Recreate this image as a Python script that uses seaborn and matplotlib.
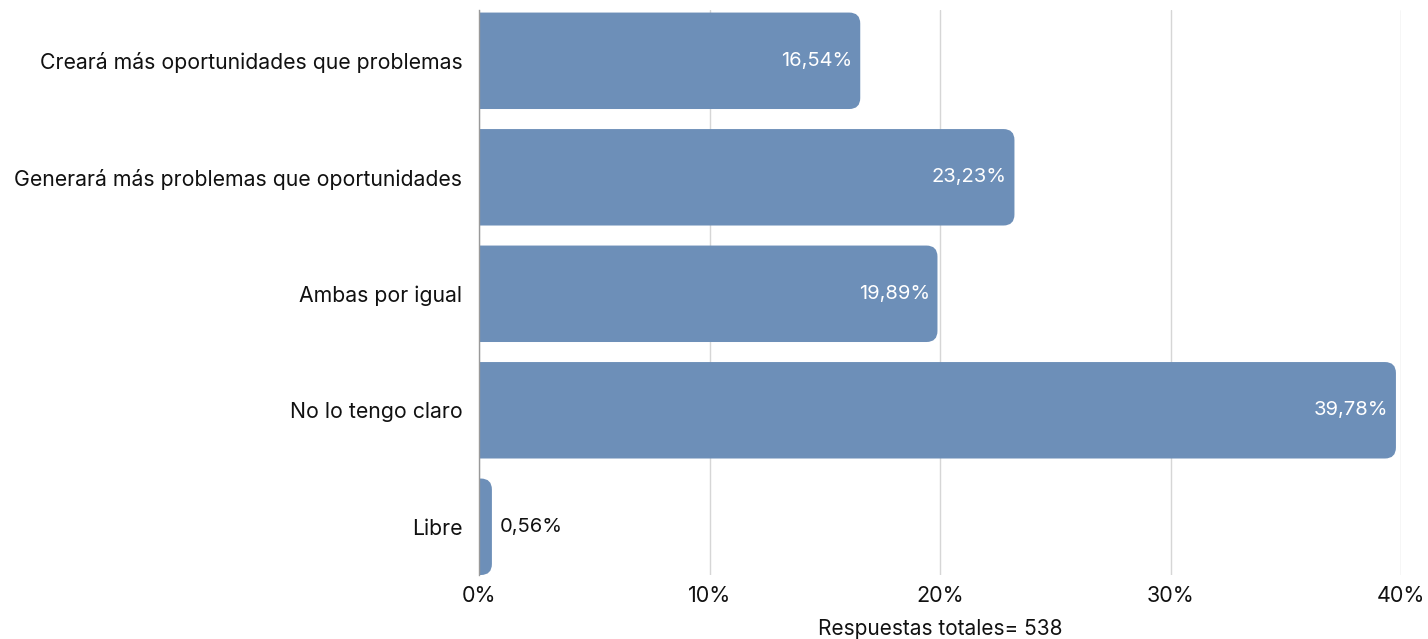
import matplotlib
matplotlib.use("Agg")
import matplotlib.pyplot as plt
import seaborn as sns
import pandas as pd
from matplotlib.patches import FancyBboxPatch

categories = ["Creará más oportunidades que problemas",
              "Generará más problemas que oportunidades",
              "Ambas por igual",
              "No lo tengo claro",
              "Libre"]
values = [16.54, 23.23, 19.89, 39.78, 0.56]
labels = ["16,54%", "23,23%", "19,89%", "39,78%", "0,56%"]
xticks = [0, 10, 20, 30, 40]
xticklabels = ["0%", "10%", "20%", "30%", "40%"]
xlabel = "Respuestas totales= 538"

bar_color = "#6d8fb8"

sns.set_theme(style="white")
plt.rcParams["font.family"] = ["Inter", "DejaVu Sans"]

fig = plt.figure(figsize=(14.28, 6.39), dpi=100)
ax_h = 565
ax = fig.add_axes([479/1428, 64/639, 922/1428, ax_h/639])

df = pd.DataFrame({"cat": categories, "val": values})
sns.barplot(data=df, y="cat", x="val", orient="h", color=bar_color,
            width=0.828, ax=ax, saturation=1)

ax.set_xlim(0, 40)
ax.set_ylim(4.414, -0.436)

# replace bars by right-rounded ones
px_per_x = 922 / 40
px_per_y = ax_h / 4.85
r_px = 11
rx = r_px / px_per_x
aspect = px_per_x / px_per_y
for p in list(ax.patches):
    x0, y0 = p.get_x(), p.get_y()
    w, h = p.get_width(), p.get_height()
    p.set_visible(False)
    fb = FancyBboxPatch((x0 - rx * 2, y0), w + rx * 2, h,
                        boxstyle=f"round,pad=0,rounding_size={rx}",
                        mutation_aspect=aspect,
                        facecolor=bar_color, edgecolor="none",
                        clip_on=True, zorder=2)
    ax.add_patch(fb)

for i, (v, lab) in enumerate(zip(values, labels)):
    if v > 5:
        ax.text(v - 0.33, i, lab, ha="right", va="center",
                color="white", fontsize=14.5, zorder=3)
    else:
        ax.text(v + 0.35, i, lab, ha="left", va="center",
                color="#111111", fontsize=14.5, zorder=3)

ax.set_xticks(xticks)
ax.set_xticklabels(xticklabels, fontsize=15.5, color="#111111")
ax.tick_params(axis="x", length=0, pad=8)
ax.tick_params(axis="y", length=0, pad=12, labelsize=15.3, labelcolor="#111111")
ax.set_ylabel("")
ax.set_xlabel(xlabel, fontsize=15, color="#111111", labelpad=9)
ax.xaxis.grid(True, color="#d6d6d6", linewidth=1)
ax.set_axisbelow(True)
for s in ["top", "right", "bottom"]:
    ax.spines[s].set_visible(False)
ax.spines["left"].set_color("#999999")
ax.spines["left"].set_linewidth(1)

fig.savefig("out.png", dpi=100)
